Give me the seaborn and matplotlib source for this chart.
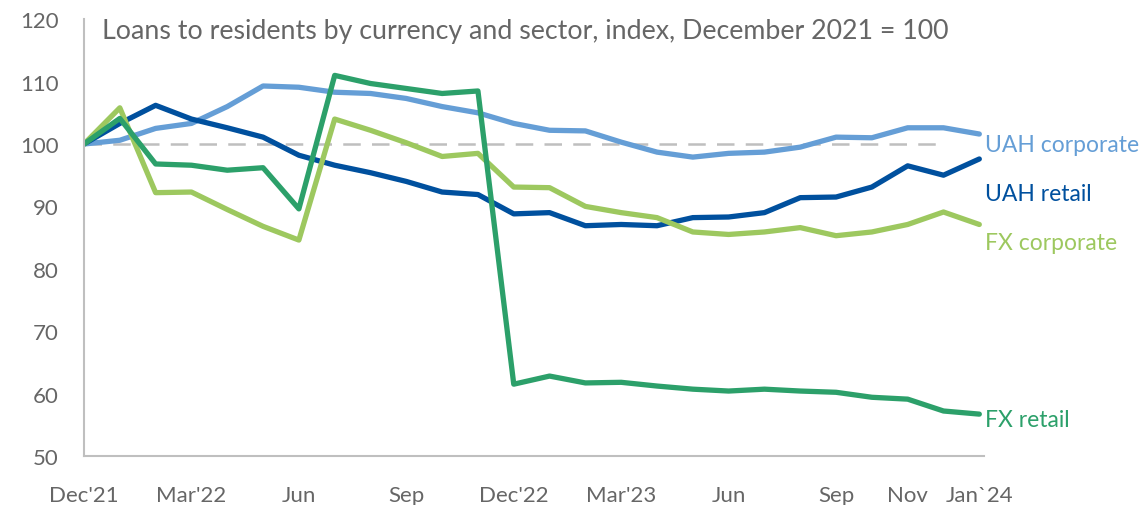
import pandas as pd
import seaborn as sns
import matplotlib.pyplot as plt

# monthly index values, Dec 2021 = 100
months = ["Dec'21", "Jan'22", "Feb'22", "Mar'22", "Apr'22", "May'22", "Jun'22",
          "Jul'22", "Aug'22", "Sep'22", "Oct'22", "Nov'22", "Dec'22", "Jan'23",
          "Feb'23", "Mar'23", "Apr'23", "May'23", "Jun'23", "Jul'23", "Aug'23",
          "Sep'23", "Oct'23", "Nov'23", "Dec'23", "Jan'24"]

uah_corporate = [100.0, 100.6, 102.5, 103.3, 106.0, 109.3, 109.1, 108.3, 108.1, 107.3,
                 106.0, 105.0, 103.3, 102.2, 102.1, 100.3, 98.7, 97.9, 98.5, 98.7,
                 99.5, 101.1, 101.0, 102.6, 102.6, 101.6]
uah_retail = [100.0, 103.3, 106.2, 104.0, 102.6, 101.1, 98.2, 96.6, 95.4, 94.0,
              92.3, 91.9, 88.8, 89.0, 86.9, 87.1, 86.9, 88.2, 88.3, 89.0,
              91.4, 91.5, 93.1, 96.5, 95.0, 97.6]
fx_corporate = [100.0, 105.8, 92.2, 92.3, 89.5, 86.8, 84.6, 104.0, 102.2, 100.2,
                98.0, 98.5, 93.1, 93.0, 90.0, 89.0, 88.2, 85.9, 85.5, 85.9,
                86.6, 85.3, 85.9, 87.1, 89.1, 87.1]
fx_retail = [100.0, 104.1, 96.8, 96.6, 95.8, 96.2, 89.6, 111.0, 109.7, 108.9,
             108.1, 108.5, 61.5, 62.8, 61.7, 61.8, 61.2, 60.7, 60.4, 60.7,
             60.4, 60.2, 59.4, 59.1, 57.2, 56.7]

series_names = ["UAH corporate", "UAH retail", "FX corporate", "FX retail"]
colors = ["#659ed6", "#00509e", "#9dc85f", "#2ca06a"]

tick_pos = [0, 3, 6, 9, 12, 15, 18, 21, 23, 25]
tick_labels = ["Dec'21", "Mar'22", "Jun", "Sep", "Dec'22", "Mar'23", "Jun", "Sep", "Nov", "Jan`24"]

# where the end labels sit (value axis)
label_y = [100.0, 92.0, 84.2, 55.9]

df = pd.DataFrame({"UAH corporate": uah_corporate, "UAH retail": uah_retail,
                   "FX corporate": fx_corporate, "FX retail": fx_retail})
df["m"] = range(len(months))
long = df.melt(id_vars="m", var_name="series", value_name="index")

sns.set_style("white")
plt.rcParams["font.family"] = ["Lato", "DejaVu Sans"]
grey = "#666666"

fig = plt.figure(figsize=(11.46, 5.06), dpi=100)
ax = fig.add_axes([0.0733, 0.097, 0.785, 0.863])

ax.hlines(100, 0, len(months) - 2, colors="#bfbfbf", linestyles=(0, (7, 4.5)),
          linewidth=1.8, zorder=1)

sns.lineplot(data=long, x="m", y="index", hue="series", hue_order=series_names,
             palette=colors, linewidth=3.8, legend=False, ax=ax, zorder=2)
for ln in ax.get_lines():
    ln.set_solid_joinstyle("round")
    ln.set_solid_capstyle("round")

ax.set_xlim(0, 25.12)
ax.set_ylim(50, 120)
ax.set_yticks(range(50, 121, 10))
ax.set_xticks(tick_pos)
ax.set_xticklabels(tick_labels)
ax.set_xlabel("")
ax.set_ylabel("")
ax.tick_params(axis="both", length=0, labelsize=16, labelcolor=grey)
ax.tick_params(axis="y", pad=18)
ax.tick_params(axis="x", pad=21)

for side in ["top", "right"]:
    ax.spines[side].set_visible(False)
for side in ["left", "bottom"]:
    ax.spines[side].set_color("#bfbfbf")
    ax.spines[side].set_linewidth(1.5)

ax.text(0.02, 0.975, "Loans to residents by currency and sector, index, December 2021 = 100",
        transform=ax.transAxes, fontsize=19.3, color=grey, va="center", ha="left")

for name, c, y in zip(series_names, colors, label_y):
    ax.text(25.17, y, name, color=c, fontsize=16.5, va="center", ha="left", clip_on=False)

fig.savefig("out.png", dpi=100)
